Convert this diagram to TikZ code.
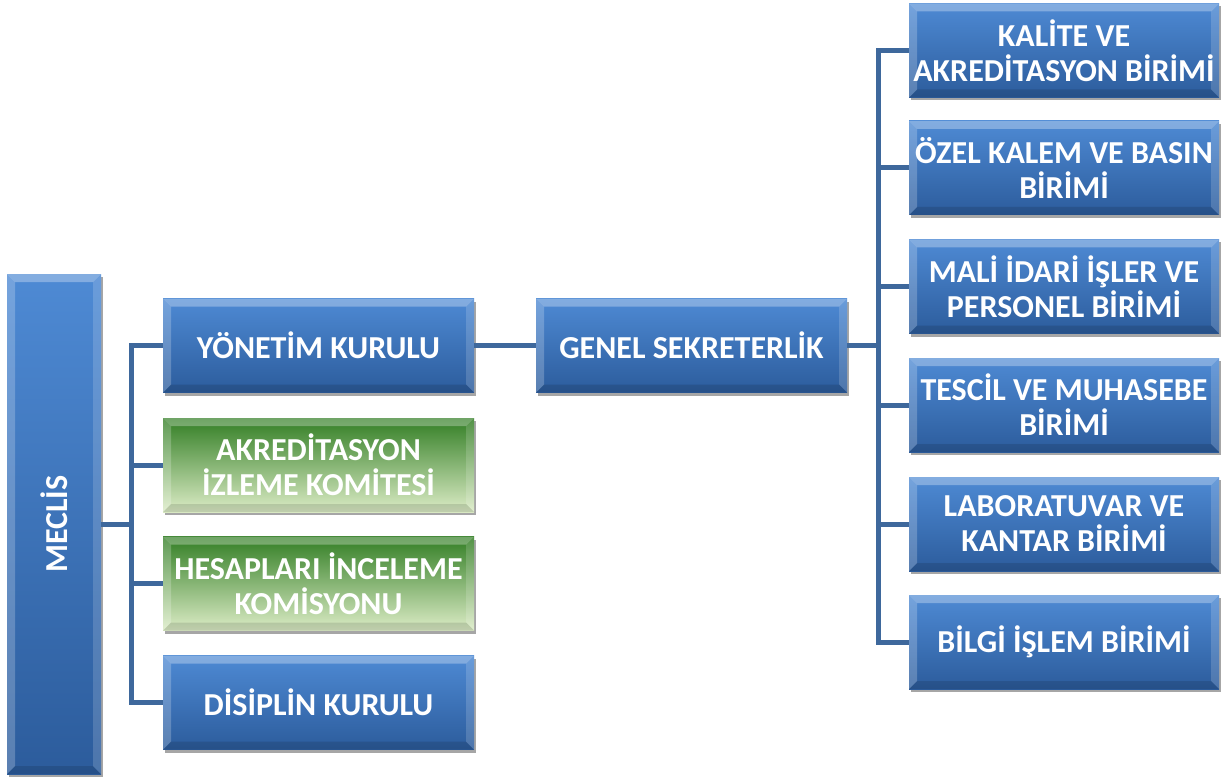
\documentclass[tikz,border=0pt]{standalone}
\usepackage{fontspec}
\setmainfont{Carlito}
\usetikzlibrary{shadows}
\definecolor{bluetop}{RGB}{78,138,212}
\definecolor{bluebot}{RGB}{44,92,156}
\definecolor{greentop}{RGB}{50,126,36}
\definecolor{greenbot}{RGB}{220,236,198}
\definecolor{connc}{RGB}{62,104,156}
\newcommand\bevelstrips{%
  \fill[white,opacity=0.30] (path picture bounding box.north west) -- (path picture bounding box.north east)
     -- ([xshift=-8pt,yshift=-8pt]path picture bounding box.north east) -- ([xshift=8pt,yshift=-8pt]path picture bounding box.north west) -- cycle;
  \fill[white,opacity=0.22] (path picture bounding box.north west) -- ([xshift=8pt,yshift=-8pt]path picture bounding box.north west)
     -- ([xshift=8pt,yshift=8pt]path picture bounding box.south west) -- (path picture bounding box.south west) -- cycle;
  \fill[white,opacity=0.16] (path picture bounding box.north east) -- ([xshift=-8pt,yshift=-8pt]path picture bounding box.north east)
     -- ([xshift=-8pt,yshift=8pt]path picture bounding box.south east) -- (path picture bounding box.south east) -- cycle;
  \fill[black,opacity=0.12] (path picture bounding box.south west) -- (path picture bounding box.south east)
     -- ([xshift=-8pt,yshift=8pt]path picture bounding box.south east) -- ([xshift=8pt,yshift=8pt]path picture bounding box.south west) -- cycle;
}
\tikzset{
  orgbox/.style={inner sep=0pt, minimum width=311pt, minimum height=94pt, text=white,
    font=\fontsize{32}{35}\selectfont\bfseries, align=center,
    drop shadow={shadow xshift=2pt, shadow yshift=-3pt, opacity=0.35, fill=black},
    path picture={\bevelstrips}},
  bluebox/.style={orgbox, top color=bluetop, bottom color=bluebot},
  greenbox/.style={orgbox, top color=greentop, bottom color=greenbot},
  conn/.style={draw=connc, line width=5pt},
}
\begin{document}
\begin{tikzpicture}[x=1pt,y=-1pt]
\useasboundingbox (0,0) rectangle (1221,778);
% left column
\node[bluebox, minimum width=94pt, minimum height=500pt] (meclis) at (54,524) {\rotatebox{90}{MECLİS}};
% middle column
\node[bluebox] (yon) at (318.5,345.5) {YÖNETİM KURULU};
\node[greenbox] (akr) at (318.5,465) {AKREDİTASYON\\İZLEME KOMİTESİ};
\node[greenbox] (hes) at (318.5,583.5) {HESAPLARI İNCELEME\\KOMİSYONU};
\node[bluebox] (dis) at (318.5,702.5) {DİSİPLİN KURULU};
\node[bluebox] (gen) at (691.5,345.5) {GENEL SEKRETERLİK};
% right column
\node[bluebox, minimum width=310pt] (kal) at (1064,50.5) {KALİTE VE\\AKREDİTASYON BİRİMİ};
\node[bluebox, minimum width=310pt] (ozel) at (1064,168) {ÖZEL KALEM VE BASIN\\BİRİMİ};
\node[bluebox, minimum width=310pt] (mali) at (1064,286.5) {MALİ İDARİ İŞLER VE\\PERSONEL BİRİMİ};
\node[bluebox, minimum width=310pt] (tes) at (1064,405) {TESCİL VE MUHASEBE\\BİRİMİ};
\node[bluebox, minimum width=310pt] (lab) at (1064,524) {LABORATUVAR VE\\KANTAR BİRİMİ};
\node[bluebox, minimum width=310pt] (bil) at (1064,642) {BİLGİ İŞLEM BİRİMİ};
% connectors
\coordinate (bus1) at (131,524);
\coordinate (bus2) at (878,345.5);
\draw[conn] (meclis.east) -- (bus1);
\draw[conn] (yon.west) -- (bus1 |- yon.west) -- (bus1 |- dis.west) -- (dis.west);
\draw[conn] (bus1 |- akr.west) -- (akr.west);
\draw[conn] (bus1 |- hes.west) -- (hes.west);
\draw[conn] (yon.east) -- (gen.west);
\draw[conn] (gen.east) -- (bus2);
\draw[conn] (kal.west) -- (bus2 |- kal.west) -- (bus2 |- bil.west) -- (bil.west);
\draw[conn] (bus2 |- ozel.west) -- (ozel.west);
\draw[conn] (bus2 |- mali.west) -- (mali.west);
\draw[conn] (bus2 |- tes.west) -- (tes.west);
\draw[conn] (bus2 |- lab.west) -- (lab.west);
\end{tikzpicture}
\end{document}
